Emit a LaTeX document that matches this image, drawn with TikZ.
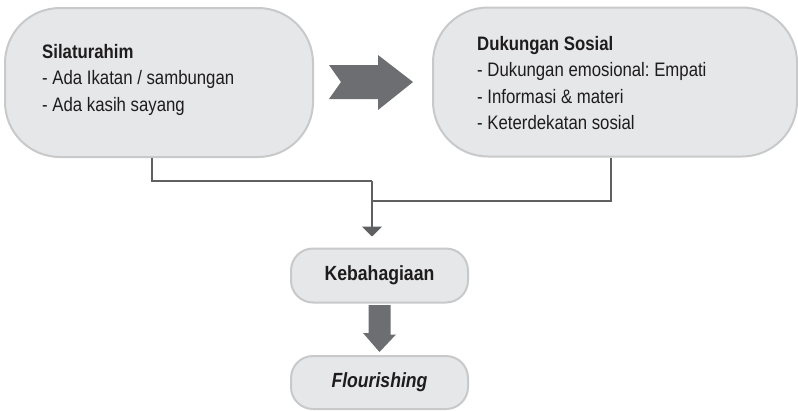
\documentclass[tikz,border=0pt]{standalone}
\usepackage{fontspec}
\setmainfont[FakeStretch=0.86]{Liberation Sans}
\usetikzlibrary{calc,arrows.meta}
\definecolor{boxfill}{HTML}{E6E7E8}
\definecolor{boxline}{HTML}{C8C9CA}
\definecolor{arrowgrey}{HTML}{6D6E71}
\definecolor{linegrey}{HTML}{5F6062}
\definecolor{ink}{HTML}{1F1C1D}
\frenchspacing
\begin{document}
\begin{tikzpicture}[x=1pt,y=-1pt,
  bigbox/.style={draw=boxline, fill=boxfill, line width=2pt, rounded corners=55pt,
    minimum height=149pt, inner sep=0pt},
  smallbox/.style={draw=boxline, fill=boxfill, line width=2pt, rounded corners=22pt,
    minimum width=177pt, minimum height=54pt, inner sep=0pt, text=ink,
    font=\fontsize{20.5}{22}\selectfont\bfseries},
  blocktext/.style={anchor=north west, inner sep=0pt, align=left, text=ink,
    font=\fontsize{19.5}{26.5}\selectfont},
  conn/.style={draw=linegrey, line width=2pt},
  bigarrow/.style={fill=arrowgrey}]
\useasboundingbox (0,0) rectangle (798,410);

% upper boxes
\node[bigbox, minimum width=308pt] (silat) at (159,82.5) {};
\node[bigbox, minimum width=364pt] (dukung) at (615,82) {};
\node[blocktext] (silattext) at (42,44)
  {\textbf{Silaturahim}\\- Ada Ikatan / sambungan\\- Ada kasih sayang};
\node[blocktext] (dukungtext) at (477,36)
  {\textbf{Dukungan Sosial}\\- Dukungan emosional: Empati\\- Informasi \& materi\\- Keterdekatan sosial};

% lower boxes
\node[smallbox] (keb) at (379.5,275.5) {Kebahagiaan};
\node[smallbox, minimum height=53pt] (flour) at (379.5,382.5) {\itshape Flourishing};

% block arrow between the upper boxes
\coordinate (ra) at (329,82);
\fill[bigarrow] (ra) ++(0,-17) -- ++(12,17) -- ++(-12,17) -- ++(49,0) -- ++(0,11)
  -- ++(35,-28) -- ++(-35,-27) -- ++(0,10) -- cycle;

% joining connectors
\coordinate (merge) at (372,181);
\coordinate (merge2) at (372,201);
\draw[conn] ([xshift=-7pt]silat.south) |- (merge);
\draw[conn] ([xshift=-4pt]dukung.south) |- (merge2);
\draw[conn, -{Triangle[width=20pt,length=10pt]}, shorten >=11pt]
  (merge) -- (merge |- keb.north);

% block arrow between the lower boxes
\fill[bigarrow] ($(keb.south)+(-11,1.5)$) -- ++(22,0) -- ++(0,29.5) -- ++(5.5,0)
  -- ($(flour.north)+(0,-3)$) -- ++(-16.5,-19) -- ++(5.5,0) -- cycle;
\end{tikzpicture}
\end{document}
